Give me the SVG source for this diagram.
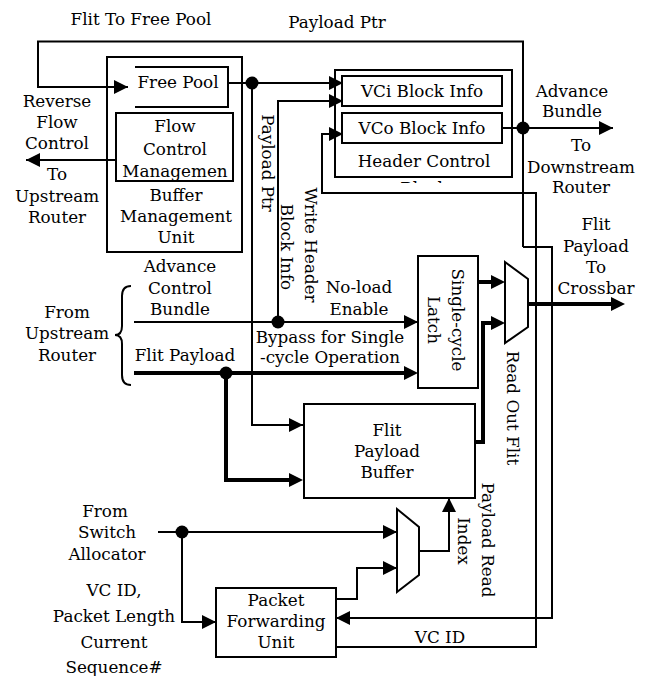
<svg xmlns="http://www.w3.org/2000/svg" width="648" height="676" viewBox="0 0 648 676">
<style>
.ln{stroke:#000;stroke-width:2;fill:none}
.tk{stroke:#000;stroke-width:4;fill:none}
.bx{stroke:#000;stroke-width:2;fill:#fff}
.dot{fill:#000}
text{font-family:"DejaVu Serif","Liberation Serif",serif;font-size:16.8px;text-anchor:middle;fill:#000}
</style>
<defs>
<marker id="a" markerUnits="userSpaceOnUse" markerWidth="15" markerHeight="15" refX="14" refY="7" orient="auto"><path d="M0,0 L14,7 L0,14 z" fill="#000"/></marker>
<marker id="at" markerUnits="userSpaceOnUse" markerWidth="15" markerHeight="15" refX="10" refY="7" orient="auto"><path d="M0,0 L14,7 L0,14 z" fill="#000"/></marker>
<clipPath id="hcclip"><rect x="330" y="178" width="190" height="5"/></clipPath>
<clipPath id="fcclip"><rect x="116" y="113" width="117" height="68"/></clipPath>
</defs>

<g id="bmu">
<rect class="bx" x="107" y="57" width="135" height="195"/>
<text x="176" y="201">Buffer</text>
<text x="176" y="222">Management</text>
<text x="176" y="243">Unit</text>
</g>
<g id="free-pool">
<path class="ln" d="M135,67 H228 V107 H135"/>
<text x="178" y="88">Free Pool</text>
</g>
<g id="flow-control">
<rect class="bx" x="116" y="113" width="117" height="68"/>
<text x="175" y="132">Flow</text>
<text x="175" y="155">Control</text>
<text x="175" y="177" clip-path="url(#fcclip)">Managemen</text>
</g>
<g id="header-control">
<rect class="bx" x="335" y="70" width="177" height="107"/>
<text x="424" y="167">Header Control</text>
<text x="424" y="194" clip-path="url(#hcclip)">Block</text>
</g>
<g id="vci">
<rect class="bx" x="342" y="76" width="160" height="30"/>
<text x="422" y="97">VCi Block Info</text>
</g>
<g id="vco">
<rect class="bx" x="342" y="113" width="160" height="30"/>
<text x="422" y="134">VCo Block Info</text>
</g>
<g id="latch">
<rect class="bx" x="418" y="256" width="60" height="132"/>
<text transform="translate(457,320) rotate(90)" y="5">Single-cycle</text>
<text transform="translate(433,320) rotate(90)" y="5">Latch</text>
</g>
<g id="mux-out">
<polygon class="bx" points="505,262 528,279 528,327 505,343"/>
</g>
<g id="buffer">
<rect class="bx" x="304" y="404" width="171" height="94"/>
<text x="387" y="436">Flit</text>
<text x="387" y="457">Payload</text>
<text x="387" y="478">Buffer</text>
</g>
<g id="mux-index">
<polygon class="bx" points="397,509 419,527 419,575 397,592"/>
</g>
<g id="pfu">
<rect class="bx" x="216" y="588" width="120" height="69"/>
<text x="276" y="606">Packet</text>
<text x="276" y="627">Forwarding</text>
<text x="276" y="648">Unit</text>
</g>

<g id="connectors">
<path class="ln" d="M523,247 V41.5 H38 V87 H128" marker-end="url(#a)"/>
<path class="ln" d="M523,247 H552 V618 H336" marker-end="url(#a)"/>
<path class="ln" d="M228,83 H343" marker-end="url(#a)"/>
<path class="ln" d="M252,83 V425 H303" marker-end="url(#a)"/>
<path class="ln" d="M278,322 V101 H343" marker-end="url(#a)"/>
<path class="ln" d="M134,322 H418" marker-end="url(#a)"/>
<path class="tk" d="M134,373 H414" marker-end="url(#at)"/>
<path class="tk" d="M226,373 V480 H299" marker-end="url(#at)"/>
<path class="ln" d="M502,128 H613" marker-end="url(#a)"/>
<path class="ln" d="M336,647 H536 V193 H322 V134 H343" marker-end="url(#a)"/>
<path class="tk" d="M478,282 H501" marker-end="url(#at)"/>
<path class="tk" d="M475,442 H483 V323 H501" marker-end="url(#at)"/>
<path class="tk" d="M528,304 H621" marker-end="url(#at)"/>
<path class="ln" d="M116,160 H26" marker-end="url(#a)"/>
<path class="ln" d="M158,532 H397" marker-end="url(#a)"/>
<path class="ln" d="M182,532 V622 H216" marker-end="url(#a)"/>
<path class="ln" d="M336,599 H357 V568 H397" marker-end="url(#a)"/>
<path class="ln" d="M419,551 H449 V498" marker-end="url(#a)"/>
<path class="ln" d="M131,286 Q122,286 122,296 V326 Q122,335 115,335 Q122,335 122,344 V375 Q122,385 131,385"/>
<circle class="dot" cx="252" cy="83" r="6.5"/>
<circle class="dot" cx="278" cy="322" r="6.5"/>
<circle class="dot" cx="226" cy="373" r="6.5"/>
<circle class="dot" cx="523" cy="128" r="6.5"/>
<circle class="dot" cx="182" cy="532" r="6.5"/>
</g>

<g id="labels">
<text x="141" y="25">Flit To Free Pool</text>
<text x="337" y="28">Payload Ptr</text>
<text x="57" y="107">Reverse</text>
<text x="57" y="128">Flow</text>
<text x="57" y="149">Control</text>
<text x="57" y="180">To</text>
<text x="57" y="202">Upstream</text>
<text x="57" y="223">Router</text>
<text transform="translate(266,163) rotate(90)" y="4">Payload Ptr</text>
<text transform="translate(310,245) rotate(90)" y="5">Write Header</text>
<text transform="translate(286,247) rotate(90)" y="5">Block Info</text>
<text x="572" y="97">Advance</text>
<text x="572" y="117">Bundle</text>
<text x="581" y="151">To</text>
<text x="581" y="173">Downstream</text>
<text x="581" y="193">Router</text>
<text x="596" y="230">Flit</text>
<text x="596" y="252">Payload</text>
<text x="596" y="273">To</text>
<text x="596" y="294">Crossbar</text>
<text x="180" y="272">Advance</text>
<text x="180" y="294">Control</text>
<text x="180" y="315">Bundle</text>
<text x="67" y="318">From</text>
<text x="67" y="339">Upstream</text>
<text x="67" y="361">Router</text>
<text x="185" y="361">Flit Payload</text>
<text x="359" y="293">No-load</text>
<text x="359" y="315">Enable</text>
<text x="330" y="343">Bypass for Single</text>
<text x="330" y="363">-cycle Operation</text>
<text transform="translate(511,408) rotate(90)" y="4">Read Out Flit</text>
<text transform="translate(486,540) rotate(90)" y="4">Payload Read</text>
<text transform="translate(463,541) rotate(90)" y="5">Index</text>
<text x="105" y="517">From</text>
<text x="107" y="538">Switch</text>
<text x="107" y="560">Allocator</text>
<text x="114" y="596">VC ID,</text>
<text x="114" y="622">Packet Length</text>
<text x="114" y="648">Current</text>
<text x="114" y="673">Sequence#</text>
<text x="440" y="643">VC ID</text>
</g>
</svg>
